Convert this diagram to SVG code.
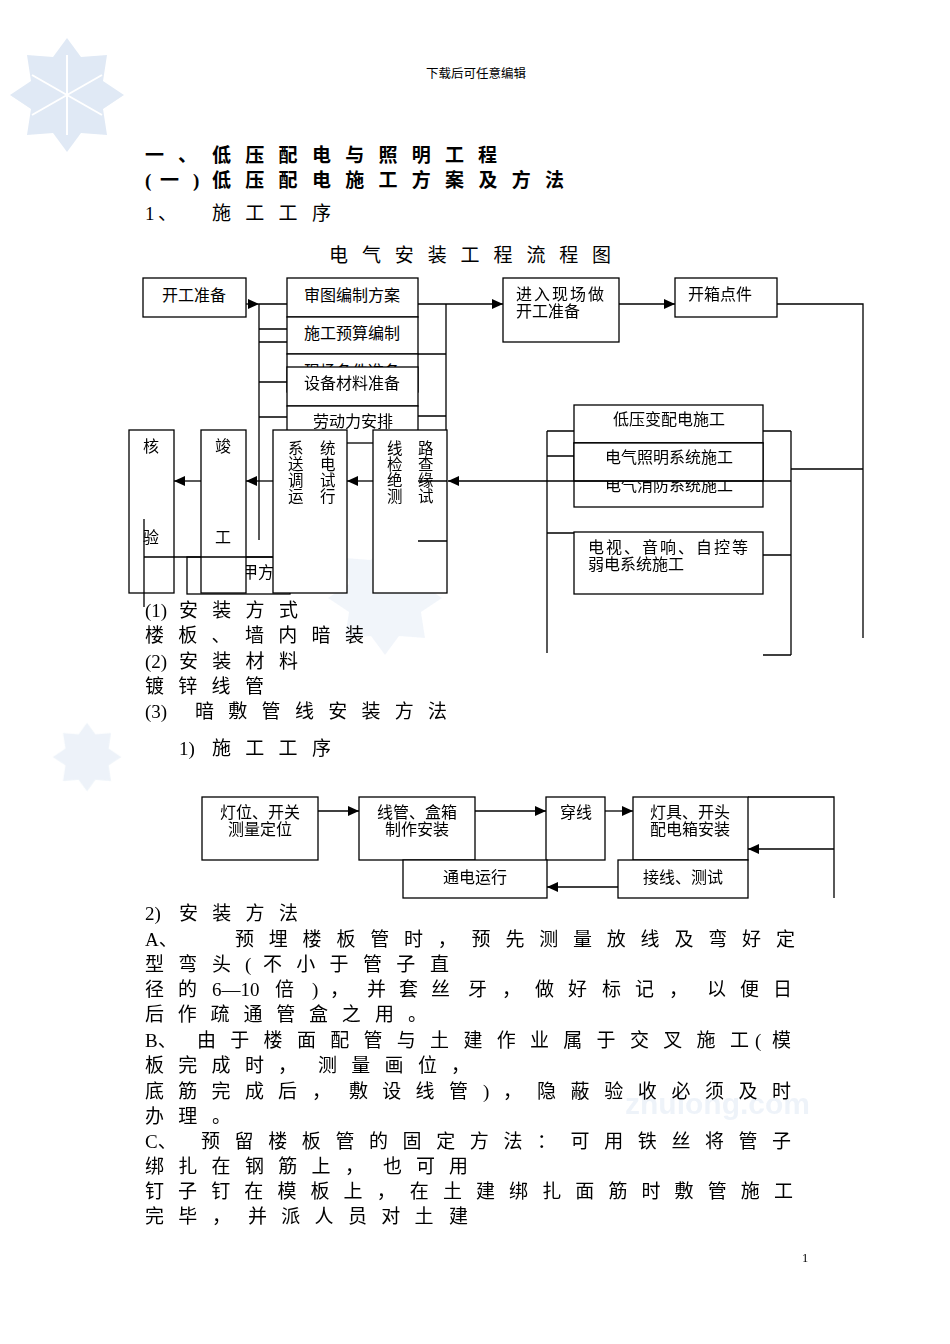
<svg xmlns="http://www.w3.org/2000/svg" width="950" height="1344" viewBox="0 0 950 1344">
<style>
text{font-family:"Liberation Serif","Noto Sans CJK SC",serif;fill:#000}
.t{font-size:19px}
.h{font-size:19px;font-weight:bold}
.bx{font-size:16px}
.vx{font-size:15.5px}
.m{text-anchor:middle}
.ls{letter-spacing:14.3px}
.box{fill:#fff;stroke:#000;stroke-width:1.3}
.ln{stroke:#000;stroke-width:1.3;fill:none}
.ar{stroke:#000;stroke-width:1.3;fill:none;marker-end:url(#ah)}
.wm{fill:#dde7f4}
</style>
<defs>
<marker id="ah" markerUnits="userSpaceOnUse" markerWidth="11" markerHeight="10" refX="11" refY="5" orient="auto">
<path d="M0,0 L11,5 L0,10 z" fill="#000"/>
</marker>
<clipPath id="clipxc"><rect x="287" y="354" width="131" height="13"/></clipPath>
<clipPath id="clipxf"><rect x="574" y="481" width="189" height="26"/></clipPath>
<g id="flake">
<polygon points="0,-57 14,-38 40,-40 36,-14 57,0 36,14 40,40 14,38 0,57 -14,38 -40,40 -36,14 -57,0 -36,-14 -40,-40 -14,-38"/>
</g>
</defs>
<rect width="950" height="1344" fill="#fff"/>

<g id="watermarks" opacity="0.9">
<use href="#flake" x="67" y="95" class="wm"/>
<g stroke="#fff" stroke-width="2" fill="none"><path d="M67,55 V135 M32,75 L102,115 M32,115 L102,75"/></g>
<use href="#flake" x="87" y="757" class="wm" transform="translate(87 757) scale(0.6) translate(-87 -757)" opacity="0.6"/>
<use href="#flake" x="385" y="598" class="wm" opacity="0.45"/>
<text x="625" y="1114" style="font-family:'Liberation Sans',sans-serif;font-size:30px;font-weight:bold;fill:#edf2f9">zhulong.com</text>
</g>

<text x="476" y="78" class="m" style="font-size:12.5px">下载后可任意编辑</text>

<g id="headings">
<text class="h" y="162"><tspan x="145">一</tspan><tspan x="178">、</tspan><tspan x="212" class="ls">低压配电与照明工</tspan><tspan x="478">程</tspan></text>
<text class="h" y="187"><tspan x="145">(</tspan><tspan x="160">一</tspan><tspan x="193">)</tspan><tspan x="212" class="ls">低压配电施工方案及方</tspan><tspan x="545">法</tspan></text>
<text class="t" y="220"><tspan x="145">1</tspan><tspan x="158">、</tspan><tspan x="212" class="ls">施工工</tspan><tspan x="312">序</tspan></text>
<text class="t" y="262"><tspan x="329" style="letter-spacing:13.9px">电气安装工程流程</tspan><tspan x="592">图</tspan></text>
</g>

<g id="chart1-boxes">
<g id="n-kgzb"><rect class="box" x="143" y="278" width="103" height="39"/><text class="bx m" x="194" y="301">开工准备</text></g>
<g id="n-st"><rect class="box" x="287" y="278" width="131" height="39"/><text class="bx m" x="352" y="301">审图编制方案</text></g>
<g id="n-ys"><rect class="box" x="287" y="317" width="131" height="37"/><text class="bx m" x="352" y="339">施工预算编制</text></g>
<g id="n-xc"><rect class="box" x="287" y="354" width="131" height="38"/><text class="bx m" x="352" y="377" clip-path="url(#clipxc)">现场条件准备</text></g>
<g id="n-sb"><rect class="box" x="287" y="367" width="131" height="39"/><text class="bx m" x="352" y="389">设备材料准备</text></g>
<g id="n-ld"><rect class="box" x="287" y="406" width="131" height="37"/><text class="bx m" x="353" y="427">劳动力安排</text></g>
<g id="n-jr"><rect class="box" x="503" y="278" width="116" height="64"/><text class="bx" y="300"><tspan x="516" style="letter-spacing:2px">进入现场</tspan><tspan x="588">做</tspan></text><text class="bx" x="516" y="317">开工准备</text></g>
<g id="n-kx"><rect class="box" x="675" y="278" width="102" height="39"/><text class="bx" x="688" y="300">开箱点件</text></g>
<g id="n-jf"><rect class="box" x="187" y="557" width="103" height="37"/><text class="bx" x="242" y="578">甲方</text></g>
<g id="n-hy"><rect class="box" x="129" y="430" width="45" height="163"/><text class="bx" x="143" y="452">核</text><text class="bx" x="143" y="543">验</text></g>
<g id="n-jg"><rect class="box" x="201" y="430" width="45" height="163"/><text class="bx" x="215" y="452">竣</text><text class="bx" x="215" y="543">工</text></g>
<g id="n-xt"><rect class="box" x="273" y="430" width="74" height="163"/>
<text class="vx" x="288" y="454">系</text><text class="vx" x="288" y="470">送</text><text class="vx" x="288" y="486">调</text><text class="vx" x="288" y="502">运</text>
<text class="vx" x="320" y="454">统</text><text class="vx" x="320" y="470">电</text><text class="vx" x="320" y="486">试</text><text class="vx" x="320" y="502">行</text></g>
<g id="n-xl"><rect class="box" x="373" y="430" width="74" height="163"/>
<text class="vx" x="387" y="454">线</text><text class="vx" x="387" y="470">检</text><text class="vx" x="387" y="486">绝</text><text class="vx" x="387" y="502">测</text>
<text class="vx" x="418" y="454">路</text><text class="vx" x="418" y="470">查</text><text class="vx" x="418" y="486">缘</text><text class="vx" x="418" y="502">试</text></g>
<g id="n-dy"><rect class="box" x="574" y="405" width="189" height="38"/><text class="bx m" x="669" y="425">低压变配电施工</text></g>
<g id="n-xf"><rect class="box" x="574" y="443" width="189" height="64"/><text class="bx m" x="669" y="491" clip-path="url(#clipxf)">电气消防系统施工</text></g>
<g id="n-zm"><rect class="box" x="574" y="443" width="189" height="38"/><text class="bx m" x="669" y="463">电气照明系统施工</text></g>
<g id="n-rd"><rect class="box" x="574" y="532" width="189" height="62"/><text class="bx" y="553"><tspan x="588" style="letter-spacing:2px">电视、音响、自控</tspan><tspan x="732">等</tspan></text><text class="bx" x="588" y="570">弱电系统施工</text></g>
</g>

<g id="chart1-connectors">
<path class="ar" d="M246,304 H259"/>
<path class="ln" d="M259,304 H287 M259,304 V540 M259,329 H287 M259,342 H287 M259,382 H287 M259,417 H287"/>
<path class="ar" d="M418,304 H503"/>
<path class="ln" d="M446,304 V430 M418,354 H446 M418,416 H446"/>
<path class="ar" d="M619,304 H675"/>
<path class="ln" d="M777,304 H863 V638 M863,469 H791"/>
<path class="ln" d="M547,431 V653 M547,431 H574 M547,456 H574 M547,533 H574"/>
<path class="ln" d="M791,431 V655 M763,431 H791 M763,555 H791 M763,655 H791"/>
<path class="ar" d="M791,481 H448"/>
<path class="ln" d="M418,481 H447 M418,541 H447"/>
<path class="ar" d="M373,481 H347"/>
<path class="ar" d="M273,481 H246"/>
<path class="ar" d="M201,481 H174"/>
<path class="ln" d="M144,519 V607 M144,557 H273"/>
</g>

<g id="body1">
<text class="t" y="617"><tspan x="145">(1)</tspan><tspan x="179" class="ls">安装方</tspan><tspan x="279">式</tspan></text>
<text class="t" y="642"><tspan x="145" class="ls">楼板、墙内暗</tspan><tspan x="345">装</tspan></text>
<text class="t" y="668"><tspan x="145">(2)</tspan><tspan x="179" class="ls">安装材</tspan><tspan x="279">料</tspan></text>
<text class="t" y="693"><tspan x="145" class="ls">镀锌线</tspan><tspan x="245">管</tspan></text>
<text class="t" y="718"><tspan x="145">(3)</tspan><tspan x="195" class="ls">暗敷管线安装方</tspan><tspan x="428">法</tspan></text>
<text class="t" y="755"><tspan x="179">1)</tspan><tspan x="212" class="ls">施工工</tspan><tspan x="312">序</tspan></text>
</g>

<g id="chart2-boxes">
<g id="m-dw"><rect class="box" x="202" y="797" width="116" height="63"/><text class="bx m" x="260" y="818">灯位、开关</text><text class="bx m" x="260" y="835">测量定位</text></g>
<g id="m-xg"><rect class="box" x="359" y="797" width="116" height="63"/><text class="bx m" x="417" y="818">线管、盒箱</text><text class="bx m" x="417" y="835">制作安装</text></g>
<g id="m-cx"><rect class="box" x="546" y="797" width="59" height="63"/><text class="bx m" x="576" y="818">穿线</text></g>
<g id="m-dj"><rect class="box" x="633" y="797" width="115" height="63"/><text class="bx m" x="690" y="818">灯具、开头</text><text class="bx m" x="690" y="835">配电箱安装</text></g>
<g id="m-td"><rect class="box" x="403" y="860" width="144" height="38"/><text class="bx m" x="475" y="883">通电运行</text></g>
<g id="m-jx"><rect class="box" x="618" y="860" width="130" height="38"/><text class="bx m" x="683" y="883">接线、测试</text></g>
</g>

<g id="chart2-connectors">
<path class="ar" d="M318,811 H359"/>
<path class="ar" d="M475,811 H546"/>
<path class="ar" d="M605,811 H633"/>
<path class="ln" d="M748,797 H834 V898"/>
<path class="ar" d="M834,849 H748"/>
<path class="ar" d="M618,887 H547"/>
</g>

<g id="body2">
<text class="t" y="920"><tspan x="145">2)</tspan><tspan x="179" class="ls">安装方</tspan><tspan x="279">法</tspan></text>
<text class="t" y="946"><tspan x="145">A、</tspan><tspan x="235" style="letter-spacing:14.8px">预埋楼板管时，预先测量放线及弯好</tspan><tspan x="776">定</tspan></text>
<text class="t" y="971"><tspan x="145" class="ls">型弯</tspan><tspan x="212">头</tspan><tspan x="245">(</tspan><tspan x="263" class="ls">不小于管子</tspan><tspan x="430">直</tspan></text>
<text class="t" y="996"><tspan x="145">径</tspan><tspan x="178">的</tspan><tspan x="212">6—10</tspan><tspan x="275">倍</tspan><tspan x="312">)</tspan><tspan x="330">，</tspan><tspan x="367">并</tspan><tspan x="399">套</tspan><tspan x="431">丝</tspan><tspan x="468">牙</tspan><tspan x="502">，</tspan><tspan x="535">做</tspan><tspan x="568">好</tspan><tspan x="602">标</tspan><tspan x="635">记</tspan><tspan x="669">，</tspan><tspan x="707">以</tspan><tspan x="740">便</tspan><tspan x="773">日</tspan></text>
<text class="t" y="1021"><tspan x="145" style="letter-spacing:13.8px">后作疏通管盒之</tspan><tspan x="375">用</tspan><tspan x="408">。</tspan></text>
<text class="t" y="1047"><tspan x="145">B、</tspan><tspan x="197" class="ls">由于楼面配管与土建作业属于交叉施</tspan><tspan x="730">工</tspan><tspan x="755">(</tspan><tspan x="772">模</tspan></text>
<text class="t" y="1072"><tspan x="145" class="ls">板完成</tspan><tspan x="245">时</tspan><tspan x="278">，</tspan><tspan x="318" class="ls">测量画</tspan><tspan x="418">位</tspan><tspan x="451">，</tspan></text>
<text class="t" y="1098"><tspan x="145" class="ls">底筋完成</tspan><tspan x="278">后</tspan><tspan x="312">，</tspan><tspan x="349" class="ls">敷设线</tspan><tspan x="449">管</tspan><tspan x="483">)</tspan><tspan x="503">，</tspan><tspan x="537" style="letter-spacing:14.6px">隐蔽验收必须及</tspan><tspan x="772">时</tspan></text>
<text class="t" y="1123"><tspan x="145" class="ls">办理</tspan><tspan x="212">。</tspan></text>
<text class="t" y="1148"><tspan x="145">C、</tspan><tspan x="201" style="letter-spacing:14.6px">预留楼板管的固定方法：可用铁丝将管</tspan><tspan x="772">子</tspan></text>
<text class="t" y="1173"><tspan x="145" class="ls">绑扎在钢筋上</tspan><tspan x="345">，</tspan><tspan x="383">也</tspan><tspan x="416">可</tspan><tspan x="449">用</tspan></text>
<text class="t" y="1198"><tspan x="145" style="letter-spacing:14.1px">钉子钉在模板上，在土建绑扎面筋时敷管施</tspan><tspan x="774">工</tspan></text>
<text class="t" y="1223"><tspan x="145" class="ls">完毕</tspan><tspan x="212">，</tspan><tspan x="248" class="ls">并派人员对土</tspan><tspan x="449">建</tspan></text>
</g>

<text x="802" y="1262" style="font-size:12.5px">1</text>
</svg>
